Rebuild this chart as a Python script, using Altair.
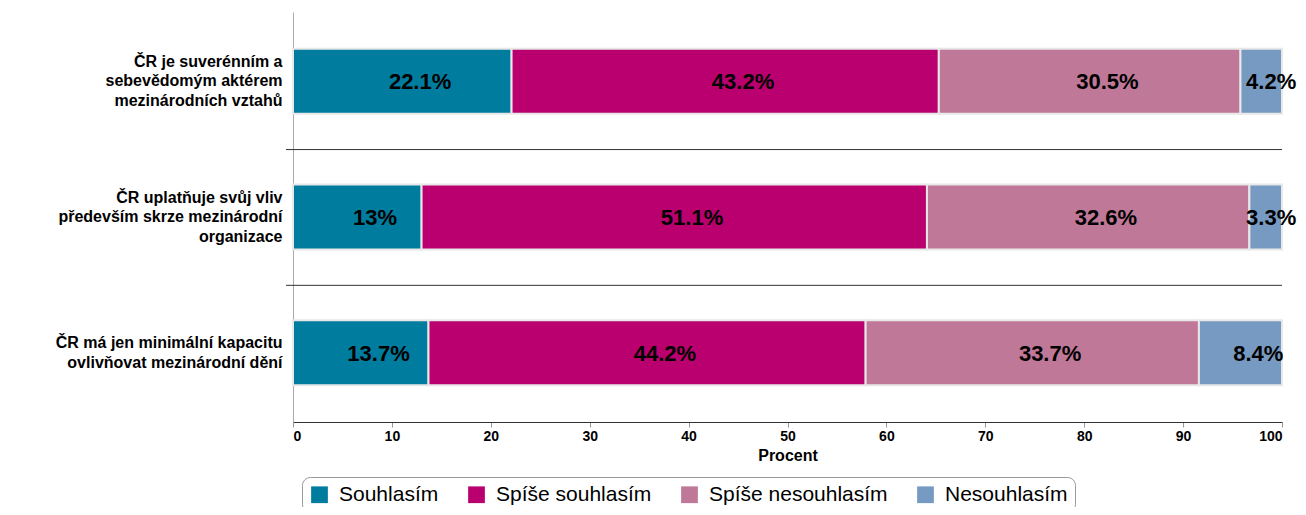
import altair as alt
import pandas as pd

categories = [
    "ČR je suverénním a\nsebevědomým aktérem\nmezinárodních vztahů",
    "ČR uplatňuje svůj vliv\npředevším skrze mezinárodní\norganizace",
    "ČR má jen minimální kapacitu\novlivňovat mezinárodní dění",
]
series = ["Souhlasím", "Spíše souhlasím", "Spíše nesouhlasím", "Nesouhlasím"]
colors = ["#007C9F", "#B9006E", "#C07898", "#779AC2"]
souhlasim = [22.1, 13.0, 13.7]
spise_souhlasim = [43.2, 51.1, 44.2]
spise_nesouhlasim = [30.5, 32.6, 33.7]
nesouhlasim = [4.2, 3.3, 8.4]

rows = []
for si, vals in enumerate([souhlasim, spise_souhlasim, spise_nesouhlasim, nesouhlasim]):
    for ci, v in enumerate(vals):
        rows.append({"cat": categories[ci], "series": series[si], "ord": si, "value": v})
df = pd.DataFrame(rows)
sep_df = pd.DataFrame({"cat": categories[:2]})

W, H = 989, 410
step = H / len(categories)
FONT = "Liberation Sans"
LH = 19.5

yscale = alt.Scale(domain=categories, paddingInner=0.52, paddingOuter=0.27)

base = alt.Chart(df)

bars = base.mark_bar(stroke="#e8e8e8", strokeWidth=2).encode(
    x=alt.X("value:Q", stack="zero",
            scale=alt.Scale(domain=[0, 100], nice=False, zero=True),
            axis=alt.Axis(values=list(range(0, 101, 10)), title="Procent",
                          grid=False, domainColor="#333333", tickColor="#999999",
                          tickSize=5, labelFont=FONT, labelFontSize=14,
                          labelFontWeight="bold", labelColor="#000000",
                          labelPadding=2, titleFont=FONT, titleFontSize=16,
                          titleFontWeight="bold", titleColor="#000000",
                          titlePadding=4)),
    y=alt.Y("cat:N", sort=categories, scale=yscale,
            axis=alt.Axis(title=None, ticks=False, domainColor="#aaaaaa",
                          labelFont=FONT, labelFontSize=16, labelFontWeight="bold",
                          labelColor="#000000", labelPadding=11, labelLimit=400,
                          labelLineHeight=LH, labelBaseline="middle",
                          labelOffset={"condition": {"test": "length(split(datum.label, '\\n')) > 2",
                                                     "value": -LH},
                                       "value": -LH / 2},
                          labelExpr="split(datum.label, '\\n')")),
    color=alt.Color("series:N", sort=series,
                    scale=alt.Scale(domain=series, range=colors),
                    legend=alt.Legend(title=None, orient="none", legendX=9, legendY=465,
                                      direction="horizontal", symbolType="square",
                                      symbolSize=280, symbolStrokeWidth=0,
                                      labelFont=FONT, labelFontSize=21, labelLimit=400,
                                      labelColor="#000000", labelOffset=9,
                                      columnPadding=27, padding=7,
                                      strokeColor="#999999", cornerRadius=8,
                                      fillColor="#ffffff")),
    order=alt.Order("ord:Q"),
)

labels = base.transform_window(
    cum="sum(value)", groupby=["cat"], sort=[alt.SortField("ord")],
    frame=[None, 0]
).transform_calculate(
    mid="min(datum.cum - datum.value / 2 + 1.8, 98.9)", lab="datum.value + '%'"
).mark_text(font=FONT, fontSize=22, fontWeight="bold", color="#000000",
            baseline="middle", align="center", dy=1).encode(
    x=alt.X("mid:Q"),
    y=alt.Y("cat:N", sort=categories, scale=yscale),
    text="lab:N",
)

seps = alt.Chart(sep_df).mark_rule(color="#333333", strokeWidth=1,
                                   yOffset=step / 2).encode(
    y=alt.Y("cat:N", sort=categories, scale=yscale),
    x=alt.value(-7),
    x2=alt.value(W),
)

chart = alt.layer(bars, seps, labels).properties(
    width=W, height=H, background="#ffffff",
    padding={"left": 285, "top": 4, "right": 16, "bottom": 85},
    autosize=alt.AutoSizeParams(type="none"),
).configure_view(stroke=None)

chart.save("out.html", embed_options={"renderer": "svg", "actions": False})
